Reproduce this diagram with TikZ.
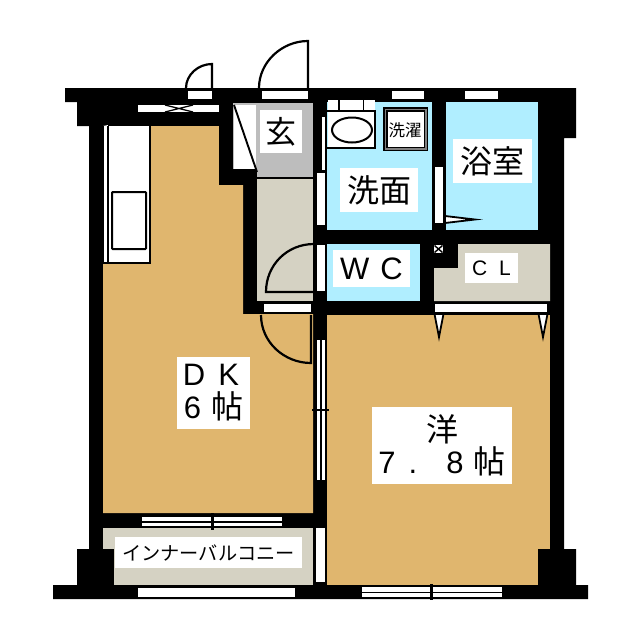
\documentclass[tikz,border=0pt]{standalone}
\usepackage{fontspec}
\setmainfont{Liberation Sans}
\newfontfamily\jp{Noto Sans CJK JP}
\definecolor{tanroom}{RGB}{224,182,110}
\definecolor{bluer}{RGB}{176,238,255}
\definecolor{beige}{RGB}{213,210,195}
\definecolor{grayr}{RGB}{189,189,189}
\newcommand{\fs}[1]{\fontsize{#1}{#1}\selectfont}
\tikzset{
  room/.style={fill=#1,draw=none},
  wht/.style={fill=white,draw=none},
  blk/.style={fill=black,draw=none},
  thinl/.style={draw=black,line width=2.2pt},
  fixture/.style={fill=white,draw=black,line width=2pt},
  lab/.style={fill=white,inner sep=0pt,align=center,text=black},
}
\begin{document}
\begin{tikzpicture}[x=1pt,y=-1pt]
\useasboundingbox (0,0) rectangle (640,640);
\fill[white] (0,0) rectangle (640,640);
% walls
\fill[black] (65,88) -- (576,88) -- (576,138) -- (564,138) -- (564,549) -- (576,549) -- (576,585) -- (588,585) -- (588,599) -- (53,599) -- (53,585) -- (77,585) -- (77,549) -- (89,549) -- (89,126) -- (77,126) -- (77,102) -- (65,102) -- cycle;
% rooms
\fill[room=tanroom] (103,126) -- (219,126) -- (219,185) -- (243,185) -- (243,314) -- (313,314) -- (313,513) -- (103,513) -- cycle;
\fill[room=tanroom] (327,315) rectangle (550,585);
\fill[room=grayr] (233,103) rectangle (313,178);
\fill[room=beige] (257,179) rectangle (313,301);
\fill[blk] (219,169) rectangle (257,185);
\fill[room=bluer] (327,102) rectangle (432,230);
\fill[room=bluer] (446,102) rectangle (538,230);
\fill[room=bluer] (327,244) rectangle (420,301);
\fill[room=beige] (458,244) -- (550,244) -- (550,301) -- (434,301) -- (434,268) -- (458,268) -- cycle;
\fill[room=beige] (103,528) rectangle (313,585);
\fill[blk] (77,549) rectangle (114,585);
\fill[blk] (538,549) rectangle (576,585);
\draw[thinl] (257,178) -- (313,178);
% windows and openings
\fill[wht] (138,105) rectangle (219,112);
\draw[black,line width=1.3pt] (165,112) -- (193,105) (165,105) -- (193,112);
\fill[wht] (188,91) rectangle (212,99);
\fill[wht] (262,91) rectangle (308,99);
\fill[wht] (392,91) rectangle (424,99);
\fill[wht] (465,91) rectangle (498,99);
\fill[wht] (322,117) rectangle (325,170);
\fill[wht] (317,173) rectangle (325,225);
\fill[wht] (317,245) rectangle (325,291);
\fill[wht] (435,167) rectangle (443,223);
\fill[wht] (264,304) rectangle (311,312);
\fill[wht] (435,304) rectangle (547,312);
\fill[wht] (316,528) rectangle (325,582);
\fill[wht] (138,588) rectangle (295,597);
% sliding doors
\fill[wht] (142,517) rectangle (282,521);
\fill[wht] (142,522.5) rectangle (282,526);
\draw[black,line width=3pt] (212,513) -- (212,530);
\fill[wht] (362,587) rectangle (502,591.5);
\fill[wht] (362,593) rectangle (502,597);
\draw[black,line width=3pt] (431,584) -- (431,600);
\fill[wht] (317,340) rectangle (319.8,480);
\fill[wht] (322,340) rectangle (325,480);
\draw[black,line width=2.4pt] (312,410) -- (329,410);
% doors
\draw[thinl] (259,88) .. controls (259,62) and (282,41) .. (308,41) -- (308,88);
\draw[thinl] (186,88) .. controls (186,75) and (198,64) .. (212,64) -- (212,88);
\draw[thinl] (314,244) .. controls (287,244) and (266,265) .. (266,292) -- (314,292);
\draw[thinl] (261,315) .. controls (261,342) and (284,363) .. (311,363) -- (311,315);
\draw[fill=white,draw=black,line width=1.8pt] (445,216) -- (475,219.5) -- (445,223) -- cycle;
\draw[fill=white,draw=black,line width=1.8pt] (434.5,314) -- (439,337) -- (443.5,314) -- cycle;
\draw[fill=white,draw=black,line width=1.8pt] (538.5,314) -- (543,337) -- (547.5,314) -- cycle;
% kitchen
\fill[wht] (103,126) rectangle (108,263);
\draw[fixture] (108,125) -- (150,125) -- (150,263) -- (103,263) -- (103,126);
\draw[thinl] (108,126) -- (108,263);
\draw[fixture,rounded corners=.8pt] (112,192) rectangle (146,249);
% shoe box
\fill[wht] (234,105) rectangle (256,169);
\draw[black,line width=1.9pt] (234,105) -- (257,172);
\fill[blk] (219,102) rectangle (233,185);
% wash basin
\fill[wht] (328,100) rectangle (375,148);
\draw[black,line width=2.2pt] (327,111) -- (375,111) -- (375,148) -- (327,148);
\draw[black,line width=1.8pt] (339,100) -- (339,111) (363.5,100) -- (363.5,111);
\draw[black,line width=2pt] (352,130) ellipse [x radius=20,y radius=12.5];
% washer
\fill[black] (383,107) rectangle (428,151);
\fill[gray] (384.5,108.5) rectangle (426.5,149.5);
\fill[black] (386,110) rectangle (425,148);
\fill[white] (387.5,112) rectangle (423.5,146.5);
\node[lab,fill=none] (washer) at (405,130) {\jp\fs{16.5}洗濯};
% pipe
\fill[wht] (434,245) rectangle (443,253);
\draw[black,line width=1.4pt] (434.5,245.5) -- (442.5,252.5) (434.5,252.5) -- (442.5,245.5);
% labels
\node[lab,minimum width=42,minimum height=43] (genkan) at (281,131.5) {\jp\fs{31}玄};
\node[lab,minimum width=78,minimum height=44] (senmen) at (379,190) {\jp\fs{32}洗面};
\node[lab,minimum width=79,minimum height=44] (yokushitsu) at (492.5,161) {\jp\fs{32}浴室};
\node[lab,minimum width=77,minimum height=37] (wc) at (371.5,268.5) {\fs{31}W\hspace{11pt}C};
\node[lab,minimum width=53,minimum height=30] (cl) at (491.5,268) {\fs{21}C\hspace{12pt}L};
\node[lab,minimum width=73,minimum height=72] (dk) at (213.5,393) {\fs{31}D\hspace{13pt}K\hspace*{5pt}\\[5pt]\fs{31}6\hspace{10pt}{\jp\fs{32}帖}};
\node[lab,minimum width=140,minimum height=77] (yo) at (442,445.5) {{\jp\fs{32}洋}\\[1pt]\fs{31}7\hspace{13pt}.\hspace{29pt}8\hspace{10pt}{\jp\fs{32}帖}};
\node[lab,minimum width=187,minimum height=31] (balcony) at (208.5,552.5) {\jp\fs{19.2}インナーバルコニー};
\end{tikzpicture}
\end{document}
